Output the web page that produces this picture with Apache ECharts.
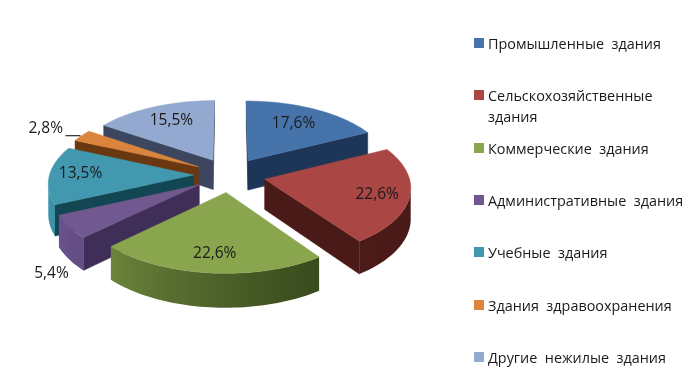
<!DOCTYPE html>
<html><head><meta charset="utf-8">
<style>html,body{margin:0;padding:0;background:#fff}#c{width:698px;height:386px}</style>
<script src="https://cdn.jsdelivr.net/npm/echarts@6/dist/echarts.min.js"></script>
</head><body><div id="c"></div>
<script>
const categories = ['Промышленные  здания','Сельскохозяйственные\nздания','Коммерческие  здания','Административные  здания','Учебные  здания','Здания  здравоохранения','Другие  нежилые  здания'];
const shares = [17.6,22.6,22.6,5.4,13.5,2.8,15.5];
const topColors = ['#4674AA','#AA4643','#89A54E','#71588F','#4198AF','#DB843D','#93A9CF'];
const sideDark = ['#1D3557','#4A1A18','#34451A','#3F2E57','#124652','#6A3810','#3C475F'];
const sideLight = ['#35598A','#5C2320','#7A9444','#6D5590','#3F94AB','#A8602A','#5A6A8C'];
const paintOrder = [6,0,5,4,3,1,2]; // slice indices, back to front

// 3D view
const view = {cx:229.5, cy:175, R:144, a:68.6, k:0.103, depth:30, explode:36};
const labelOffset = [[45.5,-36.7],[112.5,15.3],[-11.3,61.5],[-147.8,89],[-113,-1.5],[-152.7,-38.5],[-41.6,-39.6]];
const labelFont = '15.5px "Open Sans","Noto Sans",sans-serif';
const legendFont = '14.4px "Open Sans","Noto Sans",sans-serif';

function project(px, py, down) {
  const s = 1 / (1 - view.k * py / view.R);
  return [view.cx + px * s, view.cy + view.a * (py / view.R) * s + (down || 0) * s];
}
function mix(a, b, t) {
  const p = c => [1,3,5].map(i => parseInt(c.substr(i,2),16));
  const A = p(a), B = p(b);
  return 'rgb(' + A.map((v,i) => Math.round(v + (B[i]-v)*t)).join(',') + ')';
}
const total = shares.reduce((a,b) => a+b, 0);

function sliceItem(params, api) {
  const i = params.dataIndex;
  const v = api.value(0);
  let before = 0;
  for (let j = 0; j < i; j++) before += shares[j];
  const a0 = before / total * 2 * Math.PI, a1 = (before + v) / total * 2 * Math.PI, mid = (a0 + a1) / 2;
  const ox = view.explode * Math.sin(mid), oy = -view.explode * Math.cos(mid);
  const apexP = [ox, oy];
  const rim = [];
  const n = Math.max(2, Math.ceil((a1 - a0) / 0.03));
  for (let j = 0; j <= n; j++) {
    const t = a0 + (a1 - a0) * j / n;
    rim.push({t, p: [ox + view.R * Math.sin(t), oy - view.R * Math.cos(t)]});
  }
  const z = paintOrder.indexOf(i) * 10 + 1;
  const children = [];
  const scr = (p, d) => project(p[0], p[1], d);
  const face = (pts, fill) => children.push({type:'polygon', z2:z, shape:{points:pts}, style:{fill, stroke: typeof fill === 'string' ? fill : null, lineWidth:0.5}});

  // straight cut faces: visible when they run along the lower side of the top face
  const startA = scr(apexP), startB = scr(rim[0].p), endB = scr(rim[n].p);
  if (startB[0] < startA[0]) face([startA, startB, scr(rim[0].p, view.depth), scr(apexP, view.depth)], sideDark[i]);
  if (endB[0] > startA[0]) face([startA, endB, scr(rim[n].p, view.depth), scr(apexP, view.depth)], sideDark[i]);

  // outer wall: the stretch running right-to-left on screen
  const vis = rim.filter((r, j) => {
    const nb = rim[Math.min(j + 1, n)], pv = rim[Math.max(j - 1, 0)];
    return scr(nb.p)[0] < scr(pv.p)[0];
  });
  if (vis.length > 1) {
    const upper = vis.map(r => scr(r.p));
    const lower = vis.map(r => scr(r.p, view.depth)).reverse();
    const xs = upper.map(q => q[0]);
    const minX = Math.min(...xs), maxX = Math.max(...xs);
    const stops = [];
    vis.slice().reverse().forEach(r => {
      const tt = Math.pow(Math.max(0, Math.min(1, (1 - Math.sin(r.t)) / 2)), 1.6);
      stops.push({offset: Math.max(0, Math.min(1, (scr(r.p)[0] - minX) / (maxX - minX || 1))), color: mix(sideDark[i], sideLight[i], tt)});
    });
    face(upper.concat(lower), new echarts.graphic.LinearGradient(0, 0, 1, 0, stops));
  }

  const top = [startA].concat(rim.map(r => scr(r.p)));
  children.push({type:'polygon', z2: z + 1, shape:{points: top}, style:{fill: topColors[i], stroke: topColors[i], lineWidth: 0.5}});
  children.push({type:'text', z2: 1000, style:{
    text: v.toFixed(1).replace('.', ',') + '%',
    x: startA[0] + labelOffset[i][0], y: startA[1] + labelOffset[i][1],
    align:'center', verticalAlign:'middle', font: labelFont, fill:'#1a1a1a'}});
  if (i === 5) {
    children.push({type:'line', z2: 1000, shape:{x1: startA[0]-133, y1: startA[1]-31, x2: startA[0]-118, y2: startA[1]-31}, style:{stroke:'#000', lineWidth:1}});
  }
  return {type:'group', children};
}

function legendItem(params, api) {
  const i = params.dataIndex;
  const y = Math.round(43 + i * 52.3);
  return {type:'group', children:[
    {type:'rect', shape:{x:474, y:y-5, width:10, height:10}, style:{fill:topColors[i]}},
    {type:'text', style:{text: categories[i], x:488, y:y-9, align:'left', verticalAlign:'top', font: legendFont, lineHeight:21, fill:'#1a1a1a'}}
  ]};
}

const chart = echarts.init(document.getElementById('c'), null, {renderer:'canvas'});
const rows = shares.map((v,i) => ({name:categories[i], value:[v]}));
chart.setOption({
  animation:false,
  backgroundColor:'#fff',
  series:[
    {type:'custom', coordinateSystem:'none', silent:true, clip:false, renderItem:sliceItem, data: rows},
    {type:'custom', coordinateSystem:'none', silent:true, clip:false, renderItem:legendItem, data: rows}
  ]
});
</script></body></html>
